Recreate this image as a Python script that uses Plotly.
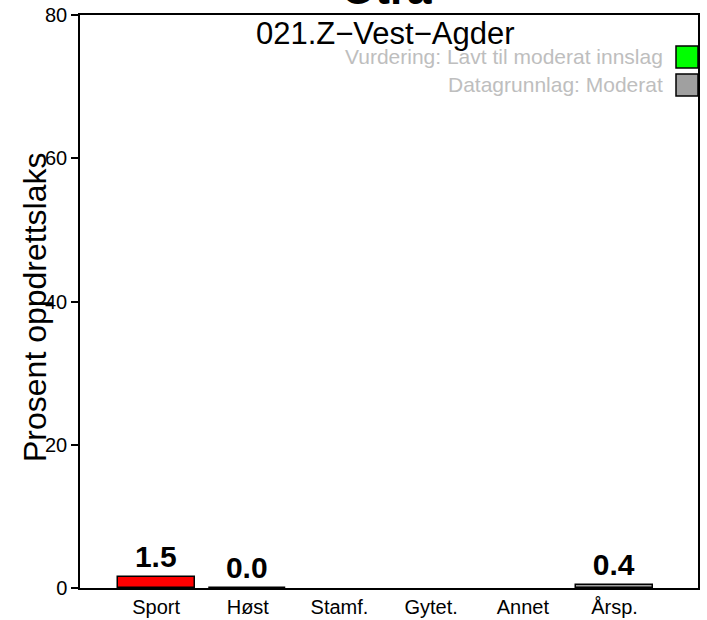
import plotly.graph_objects as go

categories = ["Sport", "Høst", "Stamf.", "Gytet.", "Annet", "Årsp."]
values = [1.5, 0.0, None, None, None, 0.4]
bar_colors = ["#FF0000", "#FFFFFF", "#FFFFFF", "#FFFFFF", "#FFFFFF", "#A0A0A0"]
y_ticks = [0, 20, 40, 60, 80]

main_title = "Otra"
sub_title = "021.Z\u2212Vest\u2212Agder"
y_title = "Prosent oppdrettslaks"
legend_texts = ["Vurdering: Lavt til moderat innslag", "Datagrunnlag: Moderat"]
legend_colors = ["#00FF00", "#A0A0A0"]

W, H = 707, 620
ML, MR, MT, MB = 80, 9, 15, 32
pw = W - ML - MR
ph = H - MT - MB

def px_x(x):
    return (x - ML) / pw

def px_y(y):
    return 1 - (y - MT) / ph

font = "Liberation Sans, Arial, sans-serif"

labels = [("%.1f" % v) if v is not None else "" for v in values]

fig = go.Figure()
fig.add_trace(go.Bar(
    x=list(range(len(categories))),
    y=values,
    width=0.84,
    marker=dict(color=bar_colors, line=dict(color="black", width=1.5)),
    text=labels,
    textposition="outside",
    textfont=dict(family=font, size=30, color="black", weight="bold"),
    cliponaxis=False,
    hoverinfo="skip",
))

fig.update_xaxes(
    range=[-0.83, 5.91],
    tickmode="array",
    tickvals=list(range(len(categories))),
    ticktext=categories,
    tickfont=dict(family=font, size=20, color="black"),
    ticks="",
    showline=True, linecolor="black", linewidth=1.5, mirror=True,
    showgrid=False, zeroline=False, automargin=False,
)
fig.update_yaxes(
    range=[0, 80],
    tickmode="array",
    tickvals=y_ticks,
    ticktext=[str(t) for t in y_ticks],
    tickfont=dict(family=font, size=20, color="black"),
    ticks="outside", ticklen=7, tickwidth=1.5, tickcolor="black",
    showline=True, linecolor="black", linewidth=1.5, mirror=True,
    showgrid=False, zeroline=False, automargin=False,
)

annotations = [
    dict(text=main_title, x=px_x(386), y=px_y(-11), xref="paper", yref="paper",
         showarrow=False, font=dict(family=font, size=44, color="black", weight="bold"),
         xanchor="center", yanchor="middle"),
    dict(text=sub_title, x=px_x(385), y=px_y(33), xref="paper", yref="paper",
         showarrow=False, font=dict(family=font, size=31, color="black"),
         xanchor="center", yanchor="middle"),
    dict(text=y_title, x=px_x(35), y=px_y(307), xref="paper", yref="paper",
         showarrow=False, textangle=-90, font=dict(family=font, size=32, color="black"),
         xanchor="center", yanchor="middle"),
]
shapes = []
for i, (t, c) in enumerate(zip(legend_texts, legend_colors)):
    yc = 57 + i * 28
    annotations.append(dict(text=t, x=px_x(665), y=px_y(yc), xref="paper", yref="paper",
                            showarrow=False, font=dict(family=font, size=21, color="#BEBEBE"),
                            xanchor="right", yanchor="middle"))
    shapes.append(dict(type="rect", xref="paper", yref="paper",
                       x0=px_x(676), x1=px_x(698), y0=px_y(yc + 11), y1=px_y(yc - 11),
                       fillcolor=c, line=dict(color="black", width=1.5)))

fig.update_layout(
    width=W, height=H,
    margin=dict(l=ML, r=MR, t=MT, b=MB),
    plot_bgcolor="white", paper_bgcolor="white",
    showlegend=False,
    annotations=annotations,
    shapes=shapes,
    bargap=0,
)

fig.write_html("out.html", config={"displayModeBar": False},
               post_script="document.body.style.margin='0';document.body.style.overflow='hidden';")
